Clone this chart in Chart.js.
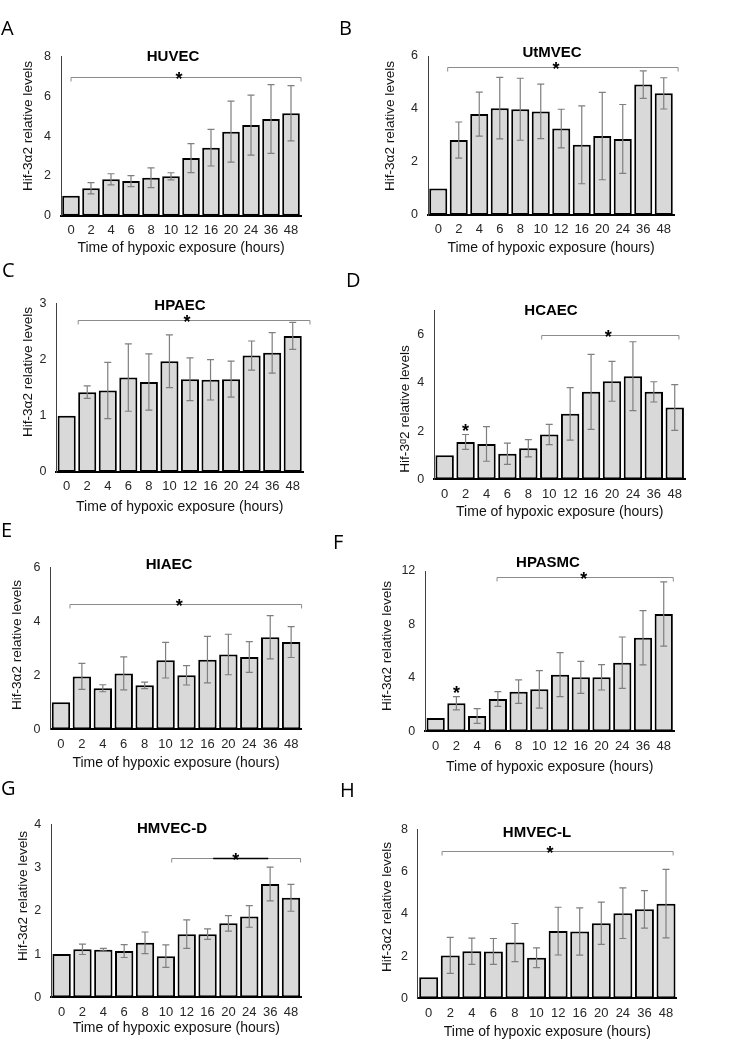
<!DOCTYPE html>
<html>
<head>
<meta charset="utf-8">
<script src="https://cdn.jsdelivr.net/npm/chart.js@4.4.1/dist/chart.umd.min.js"></script>
<style>
  html, body { margin: 0; padding: 0; background: #fff; overflow: hidden; }
  #fig { position: relative; width: 754px; height: 1041px; }
  #fig canvas { position: absolute; }
  .letter { position: absolute; font: 20px "Open Sans", "Liberation Sans", sans-serif; line-height: 20px; color: #000; z-index: 2; }
</style>
</head>
<body>
<div id="fig">
  <canvas id="pA"></canvas><canvas id="pB"></canvas>
  <canvas id="pC"></canvas><canvas id="pD"></canvas>
  <canvas id="pE"></canvas><canvas id="pF"></canvas>
  <canvas id="pG"></canvas><canvas id="pH"></canvas>
  <div class="letter" style="left:1px;top:18px">A</div>
  <div class="letter" style="left:339px;top:18px">B</div>
  <div class="letter" style="left:2px;top:260px">C</div>
  <div class="letter" style="left:346px;top:270px">D</div>
  <div class="letter" style="left:1px;top:520px">E</div>
  <div class="letter" style="left:333px;top:532px">F</div>
  <div class="letter" style="left:1px;top:778px">G</div>
  <div class="letter" style="left:340px;top:780px">H</div>
</div>
<script>
// ---- values: mean and +/- error per time point
const hours = ['0', '2', '4', '6', '8', '10', '12', '16', '20', '24', '36', '48'];

const huvecMean = [1.0, 1.38, 1.83, 1.74, 1.91, 1.98, 2.90, 3.42, 4.23, 4.56, 4.87, 5.15];
const huvecErr = [0, 0.28, 0.28, 0.28, 0.50, 0.18, 0.73, 0.92, 1.53, 1.51, 1.73, 1.39];

const utmvecMean = [1.0, 2.83, 3.81, 4.03, 3.99, 3.91, 3.26, 2.65, 2.98, 2.87, 4.92, 4.59];
const utmvecErr = [0, 0.68, 0.83, 1.16, 1.17, 1.03, 0.73, 1.47, 1.65, 1.30, 0.52, 0.59];

const hpaecMean = [1.0, 1.42, 1.45, 1.68, 1.60, 1.97, 1.65, 1.64, 1.65, 2.07, 2.12, 2.42];
const hpaecErr = [0, 0.11, 0.50, 0.60, 0.50, 0.47, 0.38, 0.36, 0.32, 0.26, 0.36, 0.24];

const hcaecMean = [1.0, 1.55, 1.47, 1.06, 1.29, 1.86, 2.72, 3.63, 4.07, 4.28, 3.63, 2.98];
const hcaecErr = [0, 0.31, 0.72, 0.44, 0.36, 0.42, 1.09, 1.56, 0.83, 1.43, 0.42, 0.95];

const hiaecMean = [1.0, 1.96, 1.52, 2.07, 1.63, 2.56, 2.00, 2.58, 2.77, 2.68, 3.41, 3.23];
const hiaecErr = [0, 0.48, 0.13, 0.61, 0.12, 0.66, 0.36, 0.86, 0.75, 0.57, 0.80, 0.57];

const hpasmcMean = [1.0, 2.10, 1.15, 2.42, 2.97, 3.14, 4.24, 4.04, 4.04, 5.14, 7.01, 8.78];
const hpasmcErr = [0, 0.50, 0.55, 0.55, 0.88, 1.40, 1.65, 1.20, 0.95, 1.92, 2.03, 2.40];

const hmvecdMean = [1.0, 1.11, 1.10, 1.07, 1.26, 0.95, 1.46, 1.46, 1.71, 1.87, 2.62, 2.30];
const hmvecdErr = [0, 0.12, 0.03, 0.15, 0.25, 0.26, 0.33, 0.12, 0.18, 0.25, 0.39, 0.31];

const hmveclMean = [1.0, 2.03, 2.23, 2.22, 2.64, 1.92, 3.18, 3.16, 3.55, 4.03, 4.21, 4.48];
const hmveclErr = [0, 0.85, 0.62, 0.61, 0.90, 0.47, 1.13, 1.12, 1.00, 1.20, 0.89, 1.62];

// significance brackets (bar index units, y in data units) and single-bar stars
const huvecSig = { from: 0, to: 11.5, y: 7.0, star: 5.4 };
const utmvecSig = { from: 0.46, to: 11.7, y: 5.58, star: 5.74 };
const hpaecSig = { from: 0.56, to: 11.84, y: 2.70, star: 5.85 };
const hcaecSig = { from: 4.64, to: 11.2, y: 6.0, star: 7.82 };
const hiaecSig = { from: 0.43, to: 11.5, y: 4.65, star: 5.65 };
const hpasmcSig = { from: 2.96, to: 11.46, y: 11.53, star: 7.14 };
const hmvecdSig = { from: 5.28, to: 11.46, y: 3.23, star: 8.35, dark: [7.27, 9.91] };
const hmveclSig = { from: 0.62, to: 11.33, y: 6.98, star: 5.62 };
const hcaecBarStars = [1];
const hpasmcBarStars = [1];

const Y_AXIS_W = 30;
const FONT = '"Liberation Sans", Arial, sans-serif';
const X_TITLE_SIZE = 14;

// ---- panel layout (page pixels)
const panels = [
  { id: 'pA', title: 'HUVEC', mean: huvecMean, err: huvecErr, sig: huvecSig, yMax: 8, yStep: 2,
    box: { x: 0, y: 0, h: 270, left: 61, right: 301, top: 56.7, bottom: 215.7 },
    titleAt: [173, 57], yTitleAt: [28, 126], xTitleY: 248 },
  { id: 'pB', title: 'UtMVEC', mean: utmvecMean, err: utmvecErr, sig: utmvecSig, yMax: 6, yStep: 2,
    box: { x: 377, y: 0, h: 270, left: 428, right: 674, top: 56, bottom: 215 },
    titleAt: [552, 53], yTitleAt: [390, 126], xTitleY: 248 },
  { id: 'pC', title: 'HPAEC', mean: hpaecMean, err: hpaecErr, sig: hpaecSig, yMax: 3, yStep: 1,
    box: { x: 0, y: 260, h: 270, left: 56.4, right: 303, top: 303.3, bottom: 472 },
    titleAt: [180, 306], yTitleAt: [28, 372], xTitleY: 506.7 },
  { id: 'pD', title: 'HCAEC', mean: hcaecMean, err: hcaecErr, sig: hcaecSig, barStars: hcaecBarStars, yMax: 7, yStep: 2,
    box: { x: 377, y: 260, h: 270, left: 434.2, right: 685.2, top: 310.7, bottom: 479.3 },
    titleAt: [551, 311], yTitleAt: [405, 409], xTitleY: 511.7, yLabel: 'Hif-3\u1D452 relative levels' },
  { id: 'pE', title: 'HIAEC', mean: hiaecMean, err: hiaecErr, sig: hiaecSig, yMax: 6, yStep: 2,
    box: { x: 0, y: 520, h: 270, left: 50.5, right: 301.6, top: 567.3, bottom: 729.3 },
    titleAt: [169, 565], yTitleAt: [17, 645], xTitleY: 763.3 },
  { id: 'pF', title: 'HPASMC', mean: hpasmcMean, err: hpasmcErr, sig: hpasmcSig, barStars: hpasmcBarStars, yMax: 12, yStep: 4,
    box: { x: 377, y: 520, h: 270, left: 425.3, right: 674.1, top: 571, bottom: 731.3 },
    titleAt: [548, 563], yTitleAt: [387, 646], xTitleY: 766.7 },
  { id: 'pG', title: 'HMVEC-D', mean: hmvecdMean, err: hmvecdErr, sig: hmvecdSig, yMax: 4, yStep: 1,
    box: { x: 0, y: 780, h: 261, left: 51.2, right: 301.4, top: 824.3, bottom: 997.3 },
    titleAt: [172, 829], yTitleAt: [23, 896], xTitleY: 1028.3 },
  { id: 'pH', title: 'HMVEC-L', mean: hmveclMean, err: hmveclErr, sig: hmveclSig, yMax: 8, yStep: 2,
    box: { x: 377, y: 780, h: 261, left: 417.9, right: 676.8, top: 829.3, bottom: 999 },
    titleAt: [537, 833], yTitleAt: [387, 907], xTitleY: 1033.3 }
];

// ---- error bars, brackets, stars and panel titles
const marksPlugin = {
  id: 'marks',
  afterDatasetsDraw(chart, args, opts) {
    const ctx = chart.ctx;
    const xs = chart.scales.x, ys = chart.scales.y;
    const meta = chart.getDatasetMeta(0);
    const step = xs.getPixelForValue(1) - xs.getPixelForValue(0);
    const atIdx = f => xs.getPixelForValue(0) + f * step;

    ctx.save();
    ctx.strokeStyle = '#7f7f7f';
    ctx.lineWidth = 1.2;
    opts.mean.forEach((m, i) => {
      const e = opts.err[i];
      if (!e) return;
      const px = meta.data[i].x;
      const t = ys.getPixelForValue(m + e), b = ys.getPixelForValue(m - e);
      ctx.beginPath();
      ctx.moveTo(px, t); ctx.lineTo(px, b);
      ctx.moveTo(px - 3.5, t); ctx.lineTo(px + 3.5, t);
      ctx.moveTo(px - 3.5, b); ctx.lineTo(px + 3.5, b);
      ctx.stroke();
    });

    const s = opts.sig;
    const by = Math.round(ys.getPixelForValue(s.y)) + 0.5;
    ctx.strokeStyle = '#8c8c8c';
    ctx.lineWidth = 1;
    ctx.beginPath();
    ctx.moveTo(atIdx(s.from), by + 4); ctx.lineTo(atIdx(s.from), by);
    ctx.lineTo(atIdx(s.to), by); ctx.lineTo(atIdx(s.to), by + 4);
    ctx.stroke();
    if (s.dark) {
      ctx.strokeStyle = '#000';
      ctx.lineWidth = 1.6;
      ctx.beginPath();
      ctx.moveTo(atIdx(s.dark[0]), by); ctx.lineTo(atIdx(s.dark[1]), by);
      ctx.stroke();
    }

    ctx.fillStyle = '#000';
    ctx.font = 'bold 18px ' + FONT;
    ctx.textAlign = 'center';
    ctx.textBaseline = 'alphabetic';
    ctx.fillText('*', atIdx(s.star), by + 7.5);
    (opts.barStars || []).forEach(i => {
      const cap = ys.getPixelForValue(opts.mean[i] + opts.err[i]);
      ctx.fillText('*', meta.data[i].x, cap + 2);
    });
    ctx.restore();
  },
  afterDraw(chart, args, opts) {
    const ctx = chart.ctx;
    ctx.save();
    ctx.fillStyle = '#000';
    ctx.textAlign = 'center';
    ctx.textBaseline = 'middle';
    ctx.font = 'bold 15px ' + FONT;
    ctx.fillText(opts.title, opts.titleAt[0] - opts.ox, opts.titleAt[1] - opts.oy);
    ctx.fillStyle = '#111';
    ctx.font = '13.6px ' + FONT;
    ctx.translate(opts.yTitleAt[0] - opts.ox, opts.yTitleAt[1] - opts.oy);
    ctx.rotate(-Math.PI / 2);
    ctx.fillText(opts.yLabel, 0, 0);
    ctx.restore();
  }
};

function drawPanel(p) {
  const b = p.box;
  const canvas = document.getElementById(p.id);
  canvas.width = 377;
  canvas.height = b.h;
  canvas.style.left = b.x + 'px';
  canvas.style.top = b.y + 'px';

  // x axis box height puts the axis title centre at xTitleY (title padding 0)
  const xAxisH = p.xTitleY - b.bottom + X_TITLE_SIZE * 0.6;
  const pad = {
    left: b.left - b.x - Y_AXIS_W,
    right: b.x + 377 - b.right,
    top: b.top - b.y,
    bottom: Math.max(0, b.h - (b.bottom - b.y) - xAxisH)
  };

  new Chart(canvas, {
    type: 'bar',
    data: {
      labels: hours,
      datasets: [{
        data: p.mean,
        backgroundColor: '#d9d9d9',
        borderColor: '#000',
        borderWidth: 2,
        borderSkipped: false,
        barPercentage: 0.88,
        categoryPercentage: 1
      }]
    },
    options: {
      responsive: false,
      animation: false,
      layout: { padding: pad },
      plugins: {
        legend: { display: false },
        tooltip: { enabled: false },
        marks: {
          mean: p.mean, err: p.err, sig: p.sig, barStars: p.barStars,
          title: p.title, titleAt: p.titleAt, yTitleAt: p.yTitleAt,
          yLabel: p.yLabel || 'Hif-3\u03B12 relative levels',
          ox: b.x, oy: b.y
        }
      },
      scales: {
        x: {
          grid: { display: false, drawTicks: false },
          border: { color: '#000', width: 2 },
          ticks: { color: '#262626', font: { family: FONT, size: 13 }, padding: 7, maxRotation: 0, autoSkip: false },
          title: { display: true, text: 'Time of hypoxic exposure (hours)', color: '#111', font: { family: FONT, size: X_TITLE_SIZE }, padding: 0 },
          afterFit: s => { s.height = xAxisH; }
        },
        y: {
          min: 0,
          max: p.yMax,
          grid: { display: false, drawTicks: false },
          border: { color: '#404040', width: 1 },
          ticks: { stepSize: p.yStep, includeBounds: false, color: '#262626', font: { family: FONT, size: 12.5 }, padding: 10 },
          afterFit: s => { s.width = Y_AXIS_W; }
        }
      }
    },
    plugins: [marksPlugin]
  });
}

panels.forEach(drawPanel);
</script>
</body>
</html>
